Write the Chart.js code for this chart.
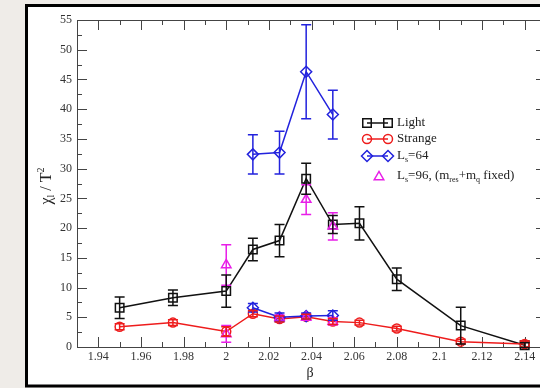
<!DOCTYPE html>
<html><head><meta charset="utf-8">
<script src="https://cdn.jsdelivr.net/npm/chart.js@4/dist/chart.umd.min.js"></script>
<style>
html,body{margin:0;padding:0;overflow:hidden;background:#efece8;width:540px;height:388px;}
#wrap{position:absolute;left:0;top:0;width:560px;height:388px;}
</style></head><body>
<div id="wrap"><canvas id="c" width="560" height="388"></canvas></div>
<script>
// ---- data ----
const lightBeta = [1.95, 1.975, 2.0, 2.0125, 2.025, 2.0375, 2.05, 2.0625, 2.08, 2.11, 2.14];
const lightVal  = [6.6, 8.3, 9.4, 16.4, 17.9, 28.3, 20.6, 20.8, 11.4, 3.6, 0.3];
const lightErr  = [1.8, 1.3, 2.7, 1.9, 2.7, 2.6, 1.5, 2.8, 1.9, 3.1, 0.4];
const strangeVal = [3.4, 4.1, 2.6, 5.6, 4.7, 5.1, 4.3, 4.1, 3.1, 0.9, 0.5];
const strangeErr = [0.5, 0.5, 0.8, 0.5, 0.5, 0.4, 0.5, 0.4, 0.4, 0.4, 0.5];
const ls64Beta = [2.0125, 2.025, 2.0375, 2.05];
const ls64Light = [32.4, 32.7, 46.3, 39.1];
const ls64LightErr = [3.3, 3.6, 7.9, 4.1];
const ls64Strange = [6.6, 5.0, 5.2, 5.3];
const ls64StrangeErr = [0.7, 0.7, 0.5, 0.8];
const ls96BetaL = [2.0, 2.0375, 2.05];
const ls96Light = [13.8, 24.8, 20.3];
const ls96LightErr = [3.4, 2.5, 2.3];
const ls96BetaS = [2.0, 2.025, 2.0375, 2.05];
const ls96Strange = [2.2, 4.9, 5.0, 4.3];
const ls96StrangeErr = [1.4, 0.5, 0.5, 0.6];
const xTickVals = [1.94, 1.96, 1.98, 2.0, 2.02, 2.04, 2.06, 2.08, 2.1, 2.12, 2.14];
const xTickLabels = ['1.94','1.96','1.98','2','2.02','2.04','2.06','2.08','2.1','2.12','2.14'];
const yTickVals = [0,5,10,15,20,25,30,35,40,45,50,55];
const yTickLabels = ['0','5','10','15','20','25','30','35','40','45','50','55'];

const BLACK='#111111', RED='#ee1c1c', BLUE='#2222dd', MAG='#e81ee8';
const SERIF='"Liberation Serif", "DejaVu Serif", serif';

function pts(xs, ys){ return xs.map((x,i)=>({x:x, y:ys[i]})); }

function drawMarker(ctx, style, x, y, r){
  ctx.beginPath();
  if(style==='rect'){ const s=r*Math.SQRT1_2; ctx.rect(x-s,y-s,2*s,2*s); }
  else if(style==='circle'){ ctx.arc(x,y,r,0,Math.PI*2); }
  else if(style==='rectRot'){ ctx.moveTo(x-r,y); ctx.lineTo(x,y-r); ctx.lineTo(x+r,y); ctx.lineTo(x,y+r); ctx.closePath(); }
  else if(style==='triangle'){ ctx.moveTo(x-r*0.866, y+r*0.5); ctx.lineTo(x+r*0.866, y+r*0.5); ctx.lineTo(x, y-r); ctx.closePath(); }
  ctx.stroke();
}

function drawRich(ctx, parts, x, y, size){
  let cx = x;
  for(const p of parts){
    const fs = p.sub||p.sup ? Math.round(size*0.62) : size;
    ctx.font = fs + 'px ' + SERIF;
    const dy = p.sub ? size*0.3 : (p.sup ? -size*0.38 : 0);
    ctx.fillText(p.t, cx, y+dy);
    cx += ctx.measureText(p.t).width;
  }
  return cx;
}

const bgPlugin = {
  id:'bg',
  beforeDraw(chart){
    const ctx=chart.ctx;
    ctx.save();
    ctx.fillStyle='#efece8'; ctx.fillRect(0,0,chart.width,chart.height);
    ctx.fillStyle='#ffffff'; ctx.fillRect(26,5,600,381);
    ctx.strokeStyle='#000'; ctx.lineWidth=3;
    ctx.strokeRect(26.5,5.5,600,380.5);
    ctx.restore();
  }
};

const axesPlugin = {
  id:'axesBox',
  beforeDatasetsDraw(chart){
    const ctx=chart.ctx, a=chart.chartArea, xs=chart.scales.x, ys=chart.scales.y;
    ctx.save();
    ctx.strokeStyle='#444'; ctx.lineWidth=1;
    ctx.strokeRect(Math.round(a.left)+0.5, Math.round(a.top)+0.5, Math.round(a.right-a.left), Math.round(a.bottom-a.top));
    ctx.beginPath();
    for(let k=193;k<=215;k++){
      const v=k/100, px=Math.round(xs.getPixelForValue(v))+0.5;
      const len = (k%2===0)?10:5;
      ctx.moveTo(px,a.bottom); ctx.lineTo(px,a.bottom-len);
      ctx.moveTo(px,a.top); ctx.lineTo(px,a.top+len);
    }
    for(let k=0;k<=22;k++){
      const v=k*2.5, py=Math.round(ys.getPixelForValue(v))+0.5;
      const len = (k%2===0)?10:5;
      ctx.moveTo(a.left,py); ctx.lineTo(a.left+len,py);
      ctx.moveTo(a.right,py); ctx.lineTo(a.right-len,py);
    }
    ctx.stroke();
    // axis titles
    ctx.fillStyle='#222'; ctx.textBaseline='middle';
    ctx.font='14px '+SERIF; ctx.textAlign='center';
    ctx.fillText('β', 310, 373);
    ctx.textAlign='left';
    ctx.translate(47, 186); ctx.rotate(-Math.PI/2);
    const parts=[{t:'χ'},{t:'l',sub:true},{t:' / T'},{t:'2',sup:true}];
    const sz=16;
    let w=0; for(const p of parts){ ctx.font=((p.sub||p.sup)?Math.round(sz*0.62):sz)+'px '+SERIF; w+=ctx.measureText(p.t).width; }
    drawRich(ctx, parts, -w/2, 0, sz);
    ctx.restore();
  }
};

const errPlugin = {
  id:'errbars',
  afterDatasetsDraw(chart){
    const ctx=chart.ctx, xs=chart.scales.x, ys=chart.scales.y;
    ctx.save();
    chart.data.datasets.forEach(ds=>{
      if(!ds.errors) return;
      ctx.strokeStyle=ds.borderColor; ctx.lineWidth=1.5;
      ds.data.forEach((p,i)=>{
        const e=ds.errors[i]; if(!e) return;
        const px=xs.getPixelForValue(p.x), y1=ys.getPixelForValue(p.y+e), y2=ys.getPixelForValue(Math.max(p.y-e, -0.5));
        ctx.beginPath();
        ctx.moveTo(px,y1); ctx.lineTo(px,y2);
        ctx.moveTo(px-5,y1); ctx.lineTo(px+5,y1);
        ctx.moveTo(px-5,y2); ctx.lineTo(px+5,y2);
        ctx.stroke();
      });
    });
    ctx.restore();
  }
};

const legendItems = [
  {parts:[{t:'Light'}], color:BLACK, style:'rect', r:6, line:true, y:123},
  {parts:[{t:'Strange'}], color:RED, style:'circle', r:4.5, line:true, y:139},
  {parts:[{t:'L'},{t:'s',sub:true},{t:'=64'}], color:BLUE, style:'rectRot', r:5.5, line:true, y:156},
  {parts:[{t:'L'},{t:'s',sub:true},{t:'=96, (m'},{t:'res',sub:true},{t:'+m'},{t:'q',sub:true},{t:' fixed)'}], color:MAG, style:'triangle', r:5.5, line:false, y:176}
];
const legendPlugin = {
  id:'customLegend',
  afterDraw(chart){
    const ctx=chart.ctx;
    ctx.save();
    legendItems.forEach(it=>{
      ctx.strokeStyle=it.color; ctx.lineWidth=1.5;
      if(it.line){
        ctx.beginPath(); ctx.moveTo(367,it.y); ctx.lineTo(388,it.y); ctx.stroke();
        drawMarker(ctx,it.style,367,it.y,it.r);
        drawMarker(ctx,it.style,388,it.y,it.r);
      } else {
        drawMarker(ctx,it.style,379,it.y+1,it.r);
      }
      ctx.fillStyle='#222'; ctx.textBaseline='middle'; ctx.textAlign='left';
      drawRich(ctx,it.parts,397,it.y,13);
    });
    ctx.restore();
  }
};

function ds(label, xs, ys, errs, color, style, r, showLine){
  return {label, data:pts(xs,ys), errors:errs, borderColor:color, backgroundColor:'rgba(0,0,0,0)',
    pointBackgroundColor:'rgba(0,0,0,0)', pointBorderColor:color, pointStyle:style, pointRadius:r,
    pointBorderWidth:1.5, borderWidth:1.5, showLine:showLine, tension:0, clip:12};
}

new Chart(document.getElementById('c'), {
  type:'scatter',
  data:{datasets:[
    ds('Ls=96 light', ls96BetaL, ls96Light, ls96LightErr, MAG, 'triangle', 5.5, false),
    ds('Ls=96 strange', ls96BetaS, ls96Strange, ls96StrangeErr, MAG, 'triangle', 5.5, false),
    ds('Ls=64 light', ls64Beta, ls64Light, ls64LightErr, BLUE, 'rectRot', 5.5, true),
    ds('Ls=64 strange', ls64Beta, ls64Strange, ls64StrangeErr, BLUE, 'rectRot', 5.5, true),
    ds('Strange', lightBeta, strangeVal, strangeErr, RED, 'circle', 4.5, true),
    ds('Light', lightBeta, lightVal, lightErr, BLACK, 'rect', 6, true)
  ]},
  options:{
    responsive:false, animation:false, devicePixelRatio:1,
    layout:{padding:{left:0, top:20, right:14, bottom:0}},
    plugins:{legend:{display:false}, tooltip:{enabled:false}},
    scales:{
      x:{type:'linear', min:1.93, max:2.15,
        afterBuildTicks(s){ s.ticks = xTickVals.map(v=>({value:v})); },
        afterFit(s){ s.height = 41; },
        grid:{display:false, drawTicks:false}, border:{display:false},
        ticks:{autoSkip:false, maxRotation:0, padding:3, color:'#333', font:{family:SERIF, size:12},
          callback:(v,i)=>xTickLabels[i]}
      },
      y:{type:'linear', min:0, max:55,
        afterBuildTicks(s){ s.ticks = yTickVals.map(v=>({value:v})); },
        afterFit(s){ s.width = 77; },
        grid:{display:false, drawTicks:false}, border:{display:false},
        ticks:{padding:5, color:'#333', font:{family:SERIF, size:12},
          callback:(v,i)=>yTickLabels[i]}
      }
    }
  },
  plugins:[bgPlugin, axesPlugin, errPlugin, legendPlugin]
});
</script>
</body></html>
